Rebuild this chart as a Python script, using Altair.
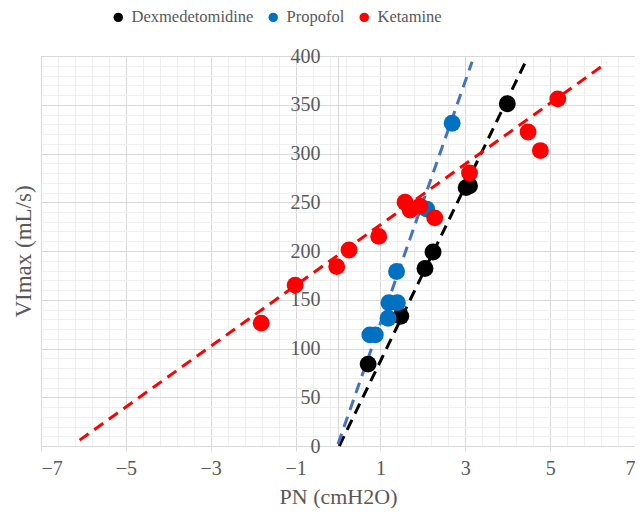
import altair as alt
import pandas as pd

series = ["Dexmedetomidine", "Propofol", "Ketamine"]
point_colors = ["#000000", "#0070C0", "#FF0000"]
line_colors = ["#000000", "#4472C4", "#FF0000"]

dex_x = [0.71, 1.48, 2.05, 2.24, 3.02, 3.10, 3.99]
dex_y = [84, 133, 182, 199, 265, 267, 351]
prop_x = [0.75, 0.88, 1.18, 1.20, 1.40, 1.38, 2.09, 2.69]
prop_y = [114, 114, 131, 147, 147, 179, 243, 331]
ket_x = [-1.81, -1.01, -0.03, 0.26, 0.96, 1.58, 1.70, 1.93, 2.28, 3.10, 4.48, 4.77, 5.18]
ket_y = [126, 165, 184, 201, 215, 250, 242, 246, 234, 280, 322, 303, 356]

# trend line end points
dex_fit_x = [0.03, 4.42]
dex_fit_y = [0, 394]
prop_fit_x = [0.0, 3.16]
prop_fit_y = [2, 394]
ket_fit_x = [-6.09, 6.33]
ket_fit_y = [6, 393]

x_ticks = [-7, -5, -3, -1, 1, 3, 5, 7]
y_ticks = [0, 50, 100, 150, 200, 250, 300, 350, 400]
x_minor = [round(-7 + 0.4 * k, 2) for k in range(36) if k % 5 != 0]
y_minor = [v for v in range(0, 401, 10) if v % 50 != 0]

FONT = "Liberation Serif"
TXT = "#595959"
MAJOR = "#D9D9D9"
MINOR = "#EFEFEF"

W = 594
H = 390

rows = []
for name, xs, ys in zip(series, [dex_x, prop_x, ket_x], [dex_y, prop_y, ket_y]):
    for a, b in zip(xs, ys):
        rows.append({"series": name, "PN": a, "VI": b})
pts = pd.DataFrame(rows)

lrows = []
for name, lc, xs, ys in zip(series, line_colors, [dex_fit_x, prop_fit_x, ket_fit_x],
                            [dex_fit_y, prop_fit_y, ket_fit_y]):
    for a, b in zip(xs, ys):
        lrows.append({"series": name, "lc": lc, "PN": a, "VI": b})
fits = pd.DataFrame(lrows)

xscale = alt.Scale(domain=[-7, 7], nice=False, zero=False)
yscale = alt.Scale(domain=[0, 400], nice=False, zero=False)

points = alt.Chart(pts).mark_circle(size=285, opacity=1).encode(
    x=alt.X("PN:Q", scale=xscale, axis=alt.Axis(
        orient="bottom", values=x_ticks, grid=True, gridColor=MAJOR, gridWidth=1,
        domain=True, domainColor=MAJOR, ticks=True, tickColor=MAJOR, tickSize=5,
        labelFont=FONT, labelFontSize=20, labelColor=TXT, labelPadding=7,
        title="PN (cmH2O)", titleFont=FONT, titleFontSize=22, titleColor=TXT,
        titleFontWeight="normal", titlePadding=8)),
    y=alt.Y("VI:Q", scale=yscale, axis=alt.Axis(
        orient="left", offset=-W / 2, values=y_ticks, grid=True, gridColor=MAJOR,
        domain=True, domainColor=MAJOR, ticks=True, tickColor=MAJOR, tickSize=8,
        labelFont=FONT, labelFontSize=20, labelColor=TXT, labelPadding=10,
        title=None)),
    color=alt.Color("series:N", sort=series,
                    scale=alt.Scale(domain=series, range=point_colors),
                    legend=alt.Legend(orient="none", legendX=69, legendY=-47,
                                      direction="horizontal", title=None,
                                      symbolType="circle", symbolSize=90,
                                      symbolStrokeWidth=0, symbolOpacity=1,
                                      labelFont=FONT, labelFontSize=16.5, labelColor=TXT,
                                      labelOffset=5, columnPadding=11, padding=0)),
)

lines = alt.Chart(fits).mark_line(strokeDash=[11, 7], strokeWidth=3, strokeCap="butt").encode(
    x=alt.X("PN:Q", scale=xscale, axis=alt.Axis(
        orient="top", values=x_minor, grid=True, gridColor=MINOR, gridWidth=1,
        domain=False, ticks=False, labels=False, title=None)),
    y=alt.Y("VI:Q", scale=yscale, axis=alt.Axis(
        orient="left", values=y_minor, grid=True, gridColor=MINOR, gridWidth=1,
        domain=False, ticks=False, labels=False,
        title="VImax (mL/s)", titleFont=FONT, titleFontSize=23, titleColor=TXT,
        titleFontWeight="normal", titleX=-18, titleY=H / 2, titleAngle=270,
        titleAlign="center", titleBaseline="middle")),
    detail="series:N",
    stroke=alt.Stroke("lc:N", scale=None),
)

chart = alt.layer(lines, points).resolve_axis(x="independent", y="independent").properties(
    width=W, height=H,
    autosize=alt.AutoSizeParams(type="none"),
    padding={"left": 33, "top": 48, "right": 0, "bottom": 63},
).configure_view(stroke=None).configure(background="white")

chart.save("out.html", embed_options={"renderer": "svg", "actions": False})
